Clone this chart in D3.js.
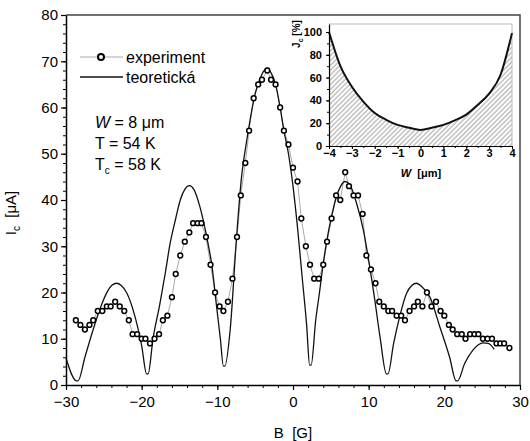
<!DOCTYPE html>
<html>
<head>
<meta charset="utf-8">
<script src="https://cdn.jsdelivr.net/npm/d3@7"></script>
<style>
  body { margin: 0; background: #fff; }
  svg { font-family: "Liberation Sans", Arial, sans-serif; }
</style>
</head>
<body>
<div id="chart"></div>
<script>
// experiment points (B in G, Ic in uA)
const expB = [-28.7, -28.1, -27.5, -26.9, -26.4, -25.8, -25.2, -24.6, -24.1, -23.5, -22.9, -22.3, -21.7, -21.2, -20.6, -20.0, -19.5, -18.9, -18.3, -17.7,
  -17.2, -16.6, -16.0, -15.5, -14.9, -14.3, -13.7, -13.2, -12.6, -12.1, -11.5, -10.9, -10.3, -9.7, -9.2, -8.6, -8.0, -7.4, -6.9, -6.3,
  -5.8, -5.2, -4.6, -4.1, -3.4, -2.9, -2.3, -1.7, -1.2, -0.6, 0.0, 0.6, 1.1, 1.7, 2.25, 2.8, 3.4, 4.0, 4.5, 5.1,
  5.7, 6.25, 6.9, 7.4, 8.0, 8.6, 9.2, 9.7, 10.3, 10.9, 11.4, 12.0, 12.6, 13.1, 13.7, 14.3, 14.8, 15.4, 16.0, 16.5,
  17.1, 17.7, 18.3, 18.9, 19.5, 20.0, 20.6, 21.1, 21.7, 22.3, 22.8, 23.4, 24.0, 24.5, 25.1, 25.7, 26.3, 26.9, 27.4, 27.9, 28.6];
const expIc = [14, 13, 12, 13, 14, 16, 16, 17, 17, 18, 17, 16, 14, 11, 11, 10, 10, 9, 10, 11,
  14, 15, 19, 24, 28, 31, 33, 35, 35, 35, 32, 26, 20, 17, 16, 18, 23, 32, 41, 48,
  55, 62, 65, 66, 68, 66, 65, 60, 55, 52, 47, 44, 36, 30, 26, 23, 23, 26, 31, 36,
  41, 40, 46, 43, 41, 41, 37, 28, 25, 22, 18, 17, 16, 16, 15, 15, 14, 16, 17, 18,
  17, 20, 17, 18, 16, 15, 13, 12, 11, 11, 10, 11, 11, 11, 10, 10, 10, 9, 9, 9, 8];

// theoretical curve
const theoB = [-30, -28.6, -28.4, -27.5, -26.5, -25.5, -24.5, -23.9, -23.3, -22.7, -22, -21, -20, -19.35, -19.15,
  -18.5, -17.6, -16.9, -16.25, -15.5, -14.9, -14.3, -13.7, -13.1, -12.3, -11.4, -10.7, -10.1, -9.6, -9.2, -9.0,
  -8.3, -7.5, -6.8, -6.2, -5.6, -5.0, -4.4, -3.9, -3.4, -2.9, -2.3, -1.7, -1.2, -0.6, 0, 0.6, 1.2, 1.8, 2.2, 2.4,
  3.0, 3.5, 4.0, 4.5, 5.1, 5.7, 6.3, 6.9, 7.5, 8.4, 9.3, 10.0, 10.8, 11.5, 12.35, 12.55,
  13.3, 14.1, 15.0, 15.7, 16.3, 17.0, 18.1, 19.4, 20.7, 21.55, 21.75, 22.7, 23.8, 24.5, 25.1, 25.8, 26.6];
const theoIc = [5.8, 0.9, 0.9, 6, 11.5, 16.5, 20.3, 21.6, 22, 21.5, 20, 15.5, 8.5, 2.4, 2.4,
  10, 17.5, 24, 30.5, 36, 40, 42.3, 43.1, 42.3, 38.5, 32, 25.6, 17, 10, 4.1, 4.1,
  12, 31, 45, 52, 58, 63, 66, 67.8, 68.5, 67.5, 65, 60, 55, 50, 43, 34, 23.5, 13, 4.3, 4.3,
  14, 20, 26.3, 31.5, 36.5, 40.5, 43, 44, 43.3, 39.3, 33.5, 27, 18.5, 10.4, 2.4, 2.4,
  9, 14.8, 19.8, 21.5, 22, 21.3, 19, 12.6, 6, 0.9, 0.9, 4.7, 7.6, 8.7, 9.1, 9, 7.7];

// inset: current density profile
const insetW = [-4, -3.5, -3, -2.5, -2, -1.5, -1, -0.5, 0, 0.5, 1, 1.5, 2, 2.5, 3, 3.5, 4];
const insetJ = [100, 70, 52, 39, 29, 23, 18.5, 16, 14, 16, 18.5, 22.5, 27.5, 36, 46, 62.5, 99];

// tick labels
const xTicks = [-30, -20, -10, 0, 10, 20, 30];
const yTicks = [0, 10, 20, 30, 40, 50, 60, 70, 80];
const insetXTicks = [-4, -3, -2, -1, 0, 1, 2, 3, 4];
const insetYTicks = [0, 20, 40, 60, 80, 100];

const width = 530;
const height = 441;
const margin = { top: 15, right: 10, bottom: 56, left: 66 };

const svg = d3.select('#chart')
  .append('svg')
  .attr('width', width)
  .attr('height', height);

const x = d3.scaleLinear()
  .domain([-30, 30])
  .range([margin.left, width - margin.right]);

const y = d3.scaleLinear()
  .domain([0, 80])
  .range([height - margin.bottom, margin.top]);

// frame top / right
svg.append('path')
  .attr('d', `M${x(-30)},${y(80)}H${x(30)}V${y(0)}`)
  .attr('fill', 'none')
  .attr('stroke', '#444')
  .attr('stroke-width', 1.5);

// minor ticks
svg.append('g')
  .attr('transform', `translate(0,${y(0)})`)
  .call(d3.axisBottom(x).tickValues(d3.range(-30, 31, 2)).tickSize(3).tickFormat('').tickSizeOuter(0))
  .call(g => g.select('.domain').remove());
svg.append('g')
  .attr('transform', `translate(${x(-30)},0)`)
  .call(d3.axisLeft(y).tickValues(d3.range(0, 81, 2)).tickSize(3).tickFormat('').tickSizeOuter(0))
  .call(g => g.select('.domain').remove());

function xAxis(g) {
  g.attr('transform', `translate(0,${y(0)})`)
    .call(d3.axisBottom(x).tickValues(xTicks).tickSize(5).tickPadding(6).tickSizeOuter(0))
    .attr('font-size', '15px')
    .attr('font-family', null);
  g.select('.domain').attr('stroke-width', 1.5);
  g.selectAll('.tick line').attr('stroke-width', 1.2);
}

function yAxis(g) {
  g.attr('transform', `translate(${x(-30)},0)`)
    .call(d3.axisLeft(y).tickValues(yTicks).tickSize(5).tickPadding(3).tickSizeOuter(0))
    .attr('font-size', '15px')
    .attr('font-family', null);
  g.select('.domain').attr('stroke-width', 1.5);
  g.selectAll('.tick line').attr('stroke-width', 1.2);
}
svg.append('g').call(xAxis);
svg.append('g').call(yAxis);

// axis titles
svg.append('text')
  .attr('x', x(0))
  .attr('y', 438)
  .attr('text-anchor', 'middle')
  .attr('font-size', '15px')
  .text('B\u00a0\u00a0[G]');

const yTitle = svg.append('text')
  .attr('transform', 'translate(16,213) rotate(-90)')
  .attr('text-anchor', 'middle')
  .attr('font-size', '15px');
yTitle.append('tspan').text('I');
yTitle.append('tspan').attr('font-size', '10px').attr('dy', 4).text('c');
yTitle.append('tspan').attr('dy', -4).text('\u00a0\u00a0[μA]');

// ---------- inset ----------
const xi = d3.scaleLinear().domain([-4, 4]).range([329, 512]);
const yi = d3.scaleLinear().domain([0, 107]).range([146, 24]);

const defs = svg.append('defs');
defs.append('pattern')
  .attr('id', 'hatch')
  .attr('patternUnits', 'userSpaceOnUse')
  .attr('width', 3.4)
  .attr('height', 3.4)
  .attr('patternTransform', 'rotate(45)')
  .append('line')
  .attr('x1', 1).attr('y1', 0)
  .attr('x2', 1).attr('y2', 3.4)
  .attr('stroke', '#8a8a8a')
  .attr('stroke-width', 0.8);

const insetData = insetW.map((w, i) => ({ w: w, j: insetJ[i] }));

svg.append('path')
  .datum(insetData)
  .attr('fill', 'url(#hatch)')
  .attr('d', d3.area().curve(d3.curveMonotoneX).x(d => xi(d.w)).y0(yi(0)).y1(d => yi(d.j)));

svg.append('path')
  .attr('d', `M${xi(-4)},${yi(107)}H${xi(4)}V${yi(0)}`)
  .attr('fill', 'none')
  .attr('stroke', '#bbb')
  .attr('stroke-width', 1);

svg.append('path')
  .datum(insetData)
  .attr('fill', 'none')
  .attr('stroke', '#111')
  .attr('stroke-width', 2)
  .attr('d', d3.line().curve(d3.curveMonotoneX).x(d => xi(d.w)).y(d => yi(d.j)));

svg.append('g')
  .attr('transform', `translate(0,${yi(0)})`)
  .call(d3.axisBottom(xi).tickValues(d3.range(-4, 4.01, 0.5)).tickSize(2).tickFormat('').tickSizeOuter(0))
  .call(g => g.select('.domain').remove());
svg.append('g')
  .attr('transform', `translate(${xi(-4)},0)`)
  .call(d3.axisLeft(yi).tickValues(d3.range(0, 101, 10)).tickSize(2).tickFormat('').tickSizeOuter(0))
  .call(g => g.select('.domain').remove());

svg.append('g')
  .attr('transform', `translate(0,${yi(0)})`)
  .call(d3.axisBottom(xi).tickValues(insetXTicks).tickSize(3).tickPadding(0).tickSizeOuter(0))
  .attr('font-size', '11px')
  .attr('font-weight', 'bold')
  .attr('font-family', null)
  .call(g => g.select('.domain').attr('stroke-width', 1.2));

svg.append('g')
  .attr('transform', `translate(${xi(-4)},0)`)
  .call(d3.axisLeft(yi).tickValues(insetYTicks).tickSize(3).tickPadding(4).tickSizeOuter(0))
  .attr('font-size', '11px')
  .attr('font-weight', 'bold')
  .attr('font-family', null)
  .call(g => g.select('.domain').attr('stroke-width', 1.2));

const iTitle = svg.append('text')
  .attr('x', 421)
  .attr('y', 177)
  .attr('text-anchor', 'middle')
  .attr('font-size', '11px')
  .attr('font-weight', 'bold');
iTitle.append('tspan').attr('font-style', 'italic').text('W');
iTitle.append('tspan').text('\u00a0\u00a0[μm]');

const jTitle = svg.append('text')
  .attr('transform', 'translate(300,34) rotate(-90)')
  .attr('text-anchor', 'middle')
  .attr('font-size', '10px')
  .attr('font-weight', 'bold');
jTitle.append('tspan').text('J');
jTitle.append('tspan').attr('font-size', '7px').attr('dy', 3).text('c');
jTitle.append('tspan').attr('dy', -3).text('\u00a0[%]');

// ---------- data ----------
const theoData = theoB.map((b, i) => ({ b: b, v: theoIc[i] }));
const expData = expB.map((b, i) => ({ b: b, v: expIc[i] }));

svg.append('path')
  .datum(expData)
  .attr('fill', 'none')
  .attr('stroke', '#aaa')
  .attr('stroke-width', 1)
  .attr('d', d3.line().x(d => x(d.b)).y(d => y(d.v)));

svg.append('path')
  .datum(theoData)
  .attr('fill', 'none')
  .attr('stroke', '#111')
  .attr('stroke-width', 1.3)
  .attr('d', d3.line().curve(d3.curveMonotoneX).x(d => x(d.b)).y(d => y(d.v)));

svg.append('g')
  .selectAll('circle')
  .data(expData)
  .join('circle')
  .attr('cx', d => x(d.b))
  .attr('cy', d => y(d.v))
  .attr('r', 2.4)
  .attr('fill', '#fff')
  .attr('stroke', '#000')
  .attr('stroke-width', 1.5);

// ---------- legend ----------
const leg = svg.append('g').attr('font-size', '16px');
leg.append('line').attr('x1', 80).attr('x2', 123).attr('y1', 57).attr('y2', 57)
  .attr('stroke', '#aaa').attr('stroke-width', 1);
leg.append('circle').attr('cx', 101).attr('cy', 57).attr('r', 3)
  .attr('fill', '#fff').attr('stroke', '#000').attr('stroke-width', 2);
leg.append('text').attr('x', 126).attr('y', 63).text('experiment');
leg.append('line').attr('x1', 80).attr('x2', 123).attr('y1', 77).attr('y2', 77)
  .attr('stroke', '#111').attr('stroke-width', 1.3);
leg.append('text').attr('x', 126).attr('y', 83).text('teoretická');

const info = svg.append('g').attr('font-size', '16px');
const t1 = info.append('text').attr('x', 95).attr('y', 128);
t1.append('tspan').attr('font-style', 'italic').text('W');
t1.append('tspan').text(' = 8 μm');
info.append('text').attr('x', 95).attr('y', 149).text('T = 54 K');
const t3 = info.append('text').attr('x', 95).attr('y', 170);
t3.append('tspan').text('T');
t3.append('tspan').attr('font-size', '10px').attr('dy', 4).text('c');
t3.append('tspan').attr('dy', -4).text(' = 58 K');
</script>
</body>
</html>
